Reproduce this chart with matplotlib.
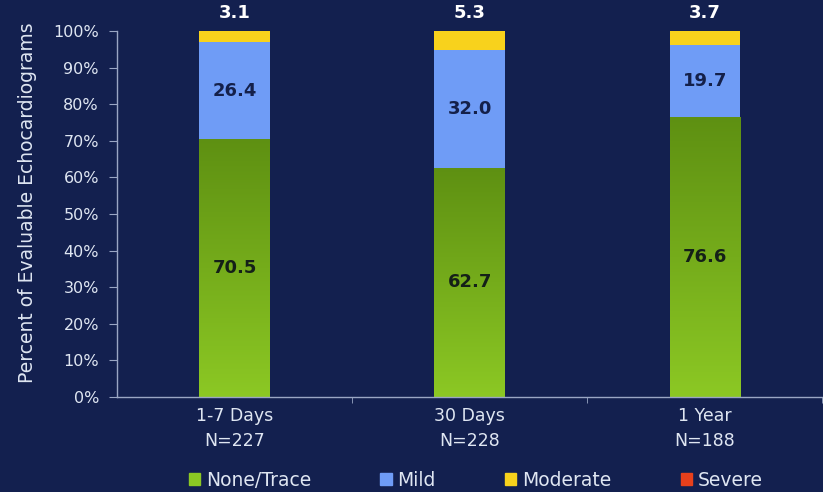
import numpy as np
import matplotlib
matplotlib.use("Agg")
import matplotlib.pyplot as plt
from matplotlib.colors import LinearSegmentedColormap
from matplotlib.patches import Patch

# Grade of regurgitation per follow-up visit (percent of evaluable echos)
categories = ["1-7 Days\nN=227", "30 Days\nN=228", "1 Year\nN=188"]
none_trace = [70.5, 62.7, 76.6]
mild = [26.4, 32.0, 19.7]
moderate = [3.1, 5.3, 3.7]
severe = [0.0, 0.0, 0.0]
series_names = ["None/Trace", "Mild", "Moderate", "Severe"]

bg = "#13204f"
green_top, green_bot = "#5e9012", "#8cc824"
c_mild = "#6f9cf6"
c_mod = "#f8d21c"
c_sev = "#e8401c"
fg = "#dfe6f2"

plt.rcParams["font.family"] = ["DejaVu Sans"]

fig = plt.figure(figsize=(8.23, 4.92), dpi=100, facecolor=bg)
ax = fig.add_axes([0.1422, 0.193, 0.857, 0.744], facecolor=bg)

x = np.arange(len(categories))
w = 0.30
none_arr = np.array(none_trace)
mild_arr = np.array(mild)
mod_arr = np.array(moderate)
sev_arr = np.array(severe)

b1 = ax.bar(x, none_arr, w, color=green_bot, linewidth=0, zorder=2)
b2 = ax.bar(x, mild_arr, w, bottom=none_arr, color=c_mild, linewidth=0, zorder=2)
b3 = ax.bar(x, mod_arr, w, bottom=none_arr + mild_arr, color=c_mod, linewidth=0, zorder=2)
b4 = ax.bar(x, sev_arr, w, bottom=none_arr + mild_arr + mod_arr, color=c_sev, linewidth=0, zorder=2)

# vertical gradient on the green segments
cmap = LinearSegmentedColormap.from_list("g", [green_bot, green_top])
grad = np.linspace(0, 1, 256).reshape(-1, 1)
for bar in b1:
    bx, by = bar.get_x(), bar.get_y()
    im = ax.imshow(grad, cmap=cmap, aspect="auto", origin="lower",
                   extent=[bx, bx + bar.get_width(), by, by + bar.get_height()], zorder=2.5)
    im.set_clip_path(bar)

ax.set_xlim(-0.5, 2.5)
ax.set_ylim(0, 100)

# segment labels
for i in range(len(x)):
    ax.text(x[i], none_arr[i] / 2, f"{none_arr[i]:.1f}", ha="center", va="center",
            fontsize=13, fontweight="bold", color="#142018", zorder=4)
    ax.text(x[i], none_arr[i] + mild_arr[i] / 2, f"{mild_arr[i]:.1f}", ha="center", va="center",
            fontsize=13, fontweight="bold", color="#14204a", zorder=4)
    ax.text(x[i], 102.5, f"{mod_arr[i]:.1f}", ha="center", va="bottom",
            fontsize=13, fontweight="bold", color="white", zorder=4, clip_on=False)

ax.set_yticks(np.arange(0, 101, 10))
ax.set_yticklabels([f"{v}%" for v in range(0, 101, 10)])
ax.set_xticks(x)
ax.set_xticklabels(categories, linespacing=1.5)
ax.set_xticks([0.5, 1.5, 2.5], minor=True)

for s in ["top", "right"]:
    ax.spines[s].set_visible(False)
for s in ["left", "bottom"]:
    ax.spines[s].set_color("#9aa6c4")
    ax.spines[s].set_linewidth(1.0)

ax.tick_params(axis="y", colors="#9aa6c4", labelcolor=fg, labelsize=11.5, length=6, pad=7, direction="out")
ax.tick_params(axis="x", which="major", length=0, labelcolor=fg, labelsize=12.5, pad=7)
ax.tick_params(axis="x", which="minor", length=4, direction="out", colors="#9aa6c4")

ax.set_ylabel("Percent of Evaluable Echocardiograms", color=fg, fontsize=13.5)
ax.yaxis.set_label_coords(-0.113, 0.53)

handles = [Patch(color=green_bot), Patch(color=c_mild), Patch(color=c_mod), Patch(color=c_sev)]
leg = fig.legend(handles, series_names, loc="lower center", bbox_to_anchor=(0.578, -0.03),
                 ncol=4, frameon=False, fontsize=13.5, handlelength=0.6, handleheight=0.6,
                 handletextpad=0.3, columnspacing=3.7)
for t in leg.get_texts():
    t.set_color(fg)

fig.savefig("out.png", dpi=100, facecolor=bg)
